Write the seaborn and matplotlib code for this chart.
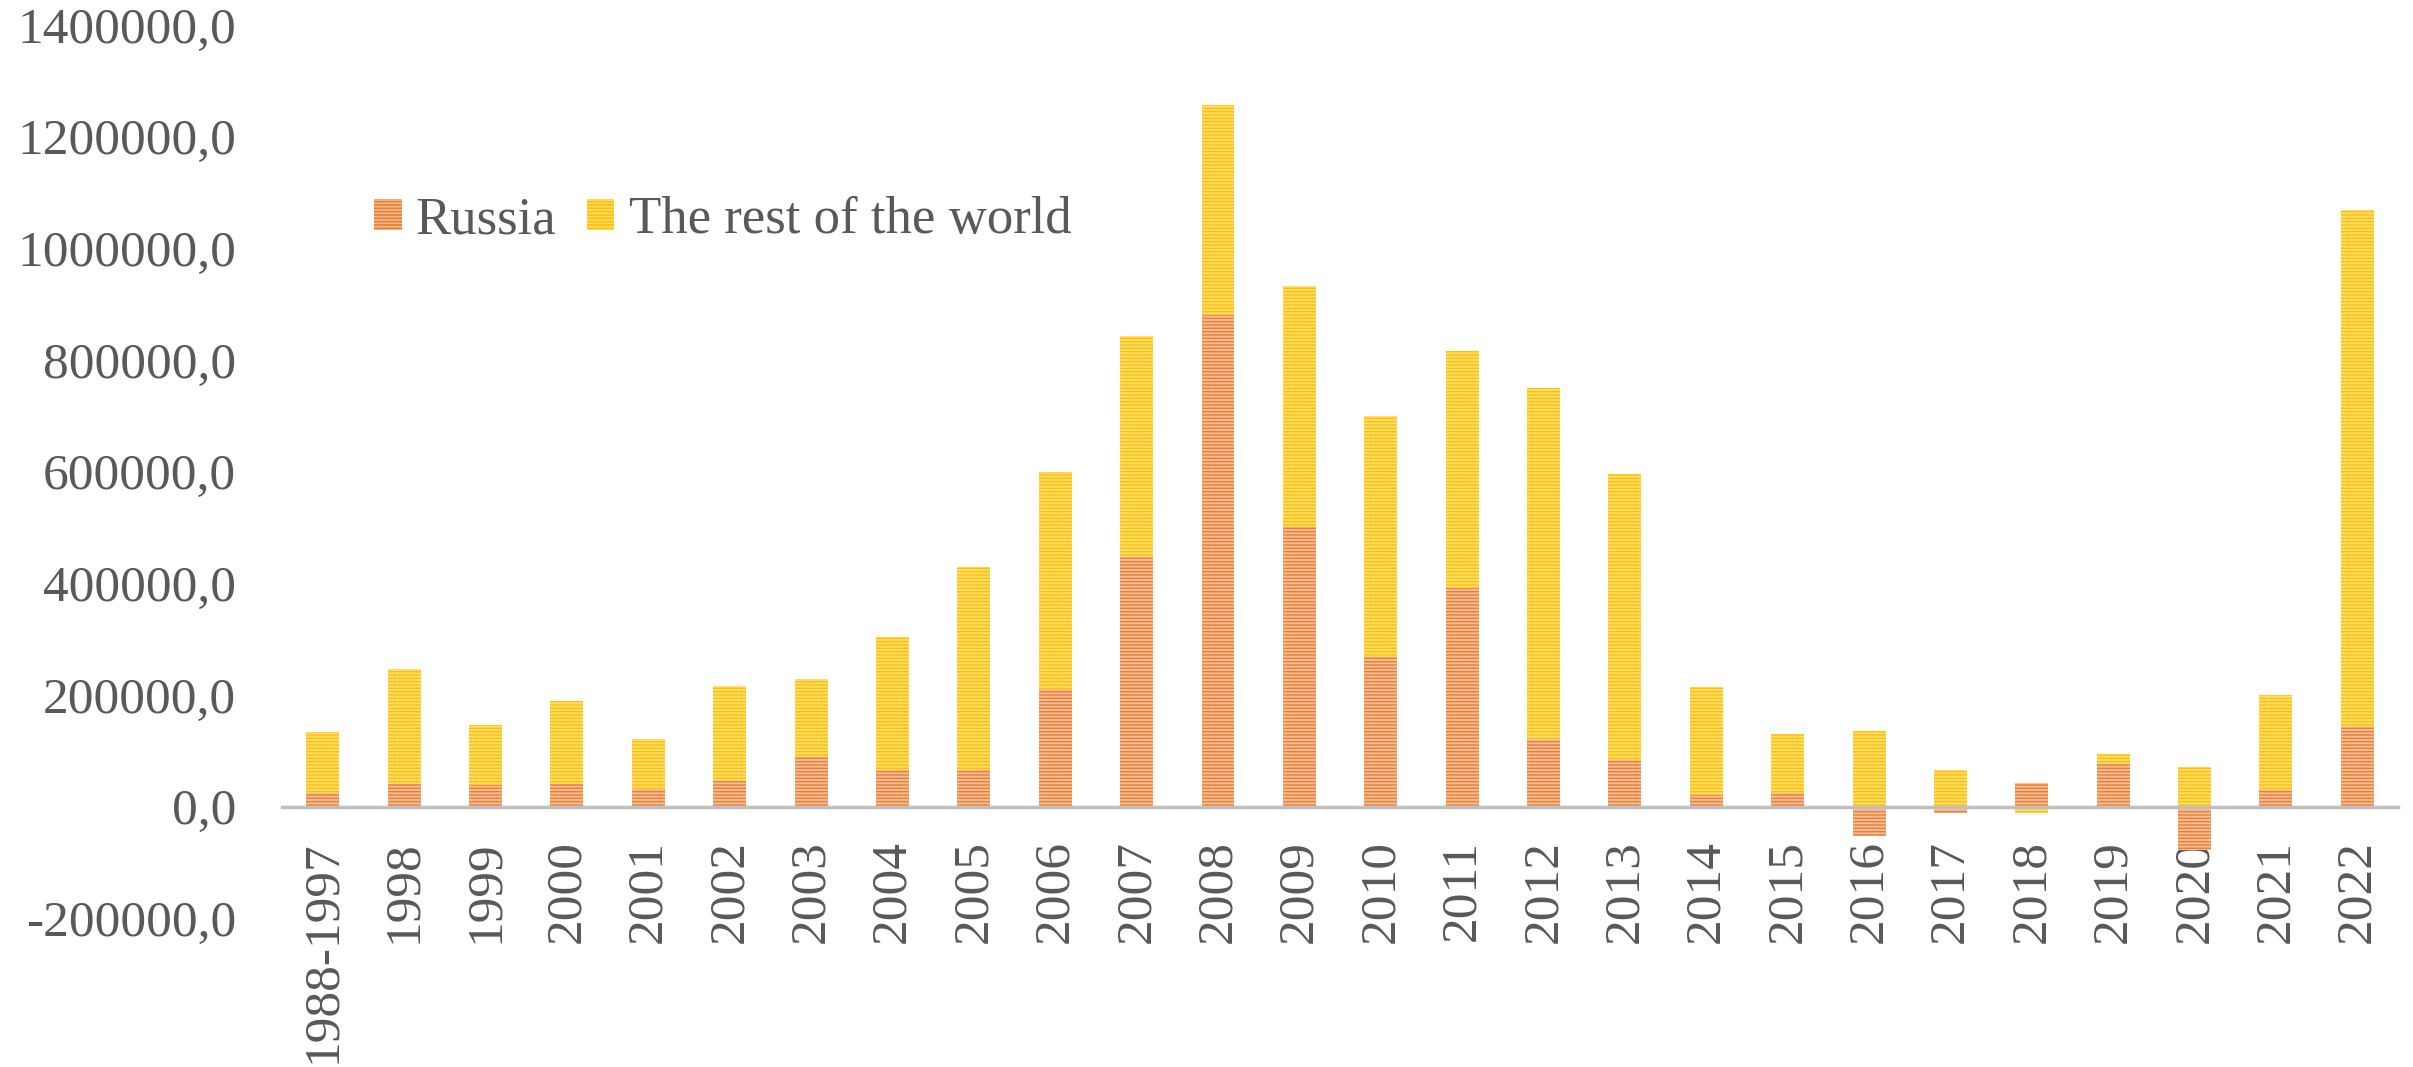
import numpy as np
import pandas as pd
import matplotlib
matplotlib.use('Agg')
import matplotlib.pyplot as plt
import seaborn as sns

years = ['1988-1997', '1998', '1999', '2000', '2001', '2002', '2003', '2004',
         '2005', '2006', '2007', '2008', '2009', '2010', '2011', '2012', '2013',
         '2014', '2015', '2016', '2017', '2018', '2019', '2020', '2021', '2022']
russia = [24000, 40000, 39000, 41000, 31000, 46000, 89000, 66000,
          66000, 211000, 447000, 880000, 501000, 268000, 391000, 121000, 83000,
          21000, 24000, -52000, -11000, 42000, 77000, -78000, 30000, 142000]
rest_of_world = [110000, 207000, 107000, 148000, 91000, 170000, 139000, 238000,
                 364000, 388000, 396000, 376000, 432000, 432000, 425000, 628000, 512000,
                 194000, 106000, 136000, 66000, -12000, 18000, 71000, 170000, 926000]
y_ticks = [-200000, 0, 200000, 400000, 600000, 800000, 1000000, 1200000, 1400000]
y_tick_labels = ['-200000,0', '0,0', '200000,0', '400000,0', '600000,0',
                 '800000,0', '1000000,0', '1200000,0', '1400000,0']

# excel stacks positives on positives and negatives on negatives
row_top = [r + w if (r >= 0) == (w >= 0) else w for r, w in zip(russia, rest_of_world)]
df = pd.DataFrame({'year': years, 'russia': russia, 'row_top': row_top})

sns.set_style('white')
plt.rcParams['font.family'] = ['Liberation Serif', 'DejaVu Serif']
text_col = '#595959'

fig = plt.figure(figsize=(24.13, 10.67), dpi=100)
ax = fig.add_axes([0.1169, 0.1393, 0.8769, 0.8375])

sns.barplot(data=df, x='year', y='row_top', color='#FFC000', saturation=1,
            width=0.405, ax=ax, label='The rest of the world')
sns.barplot(data=df, x='year', y='russia', color='#ED7D31', saturation=1,
            width=0.405, ax=ax, label='Russia')

plt.rcParams['hatch.linewidth'] = 1.25
styles = [('#FFDD70', '#FFC000'), ('#F6BE98', '#ED7D31')]
for cont, (light, dark) in zip(ax.containers, styles):
    for p in cont:
        p.set_facecolor(light)
        p.set_edgecolor(dark)
        p.set_linewidth(0)
        p.set_hatch('-----')

ax.set_ylim(-200000, 1400000)
ax.set_xlim(-0.5, len(years) - 0.5)
ax.set_yticks(y_ticks)
ax.set_yticklabels(y_tick_labels)
ax.set_xlabel('')
ax.set_ylabel('')
ax.grid(False)

for s in ['left', 'top', 'right']:
    ax.spines[s].set_visible(False)
ax.spines['bottom'].set_position(('data', 0))
ax.spines['bottom'].set_color('#BFBFBF')
ax.spines['bottom'].set_linewidth(2.5)
ax.spines['bottom'].set_zorder(3)

ax.tick_params(axis='y', length=0, pad=33, labelsize=37, labelcolor=text_col)
ax.tick_params(axis='x', length=0, pad=24, labelsize=37, labelcolor=text_col,
               labelrotation=90)

ax.legend(handles=[ax.containers[1], ax.containers[0]],
          labels=['Russia', 'The rest of the world'],
          loc='center left', bbox_to_anchor=(0.0435, 0.781), ncol=2,
          frameon=False, fontsize=38, labelcolor=text_col,
          handlelength=0.52, handleheight=0.52, handletextpad=0.27,
          columnspacing=0.58, borderpad=0, borderaxespad=0)

fig.savefig('out.png', dpi=100)
